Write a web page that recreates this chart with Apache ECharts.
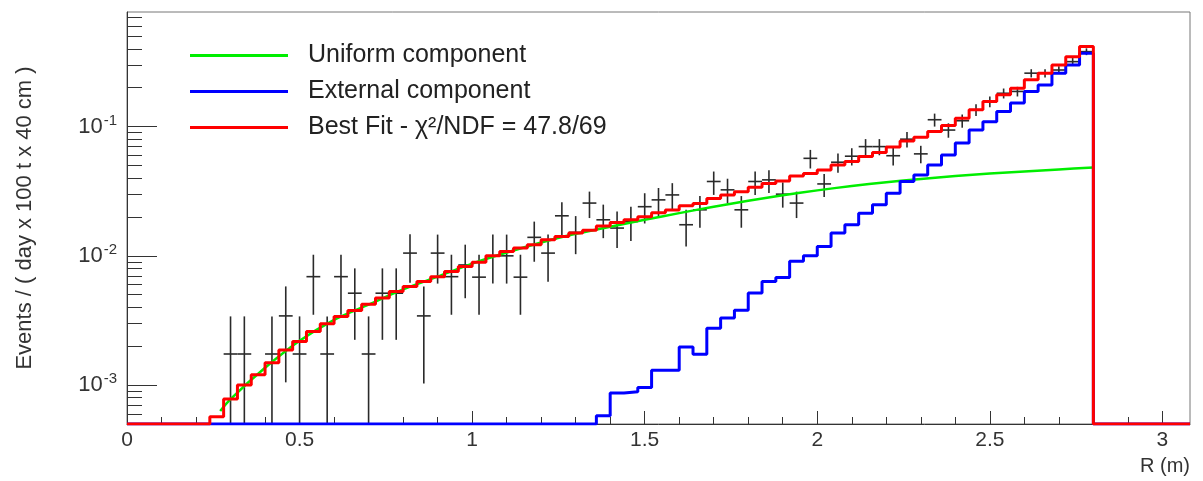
<!DOCTYPE html>
<html>
<head>
<meta charset="utf-8">
<script src="https://cdn.jsdelivr.net/npm/echarts@6.0.0/dist/echarts.min.js"></script>
<style>
  html, body { margin: 0; padding: 0; background: #fff; }
  #main { width: 1203px; height: 481px; }
</style>
</head>
<body>
<div id="main"></div>
<script>
// histogram binning (m)
var BIN_W = 0.04;
var X_MAX = 3.08;
var Y_MIN = 0.0005;
var Y_MAX = 0.77;

// best fit, per bin (70 bins from 0 to 2.8 m)
var fitTotal = [
  0, 0, 0, 0, 0, 0, 5.7e-4, 7.8e-4, 1.0e-3, 1.2e-3,
  1.49e-3, 1.87e-3, 2.17e-3, 2.6e-3, 2.98e-3, 3.4e-3, 3.78e-3, 4.23e-3, 4.71e-3, 5.3e-3,
  5.8e-3, 6.33e-3, 6.9e-3, 7.56e-3, 8.26e-3, 8.93e-3, 0.0100, 0.0108, 0.0115, 0.0122,
  0.0133, 0.0141, 0.0150, 0.0158, 0.0170, 0.0181, 0.0190, 0.0201, 0.0215, 0.0226,
  0.0244, 0.0254, 0.0278, 0.0295, 0.0313, 0.0340, 0.0363, 0.0380, 0.0414, 0.0434,
  0.0462, 0.0504, 0.0538, 0.0586, 0.0629, 0.0694, 0.0772, 0.0828, 0.0916, 0.1020,
  0.116, 0.135, 0.156, 0.176, 0.198, 0.230, 0.259, 0.300, 0.347, 0.416
];

// external component, per bin
var fitExternal = [
  0, 0, 0, 0, 0, 0, 0, 0, 0, 0,
  0, 0, 0, 0, 0, 0, 0, 0, 0, 0,
  0, 0, 0, 0, 0, 0, 0, 0, 0, 0,
  0, 0, 0, 0, 5.8e-4, 8.7e-4, 8.9e-4, 9.6e-4, 1.3e-3, 1.3e-3,
  1.97e-3, 1.73e-3, 2.75e-3, 3.3e-3, 3.8e-3, 5.16e-3, 6.33e-3, 6.8e-3, 9.1e-3, 0.0100,
  0.0118, 0.0150, 0.0174, 0.0214, 0.0248, 0.0305, 0.0376, 0.0423, 0.0505, 0.0604,
  0.0745, 0.094, 0.109, 0.131, 0.152, 0.187, 0.210, 0.259, 0.300, 0.370
];

// uniform component, smooth curve
var uniformR = [0.27, 0.3, 0.4, 0.5, 0.6, 0.7, 0.8, 0.9, 1.0, 1.1, 1.2, 1.3, 1.4, 1.5,
  1.6, 1.7, 1.8, 1.9, 2.0, 2.1, 2.2, 2.3, 2.4, 2.5, 2.6, 2.7, 2.8];
var uniformVal = [6.3e-4, 7.8e-4, 1.36e-3, 2.2e-3, 3.2e-3, 4.2e-3, 5.5e-3, 6.9e-3, 8.7e-3,
  0.0106, 0.0127, 0.0148, 0.0168, 0.0190, 0.0214, 0.0240, 0.0267, 0.0294, 0.0321, 0.0347,
  0.0371, 0.0393, 0.0414, 0.0433, 0.0450, 0.0466, 0.0482];

// data points: bin centre, value, error bar low / high
var dataR = [0.30, 0.34, 0.42, 0.46, 0.50, 0.54, 0.58, 0.62, 0.66, 0.70,
  0.74, 0.78, 0.82, 0.86, 0.90, 0.94, 0.98, 1.02, 1.06, 1.10,
  1.14, 1.18, 1.22, 1.26, 1.30, 1.34, 1.38, 1.42, 1.46, 1.50,
  1.54, 1.58, 1.62, 1.66, 1.70, 1.74, 1.78, 1.82, 1.86, 1.90,
  1.94, 1.98, 2.02, 2.06, 2.10, 2.14, 2.18, 2.22, 2.26, 2.30,
  2.34, 2.38, 2.42, 2.46, 2.50, 2.54, 2.58, 2.62, 2.66, 2.70,
  2.74, 2.78];
var dataVal = [1.74e-3, 1.74e-3, 1.74e-3, 3.43e-3, 1.74e-3, 6.9e-3, 1.74e-3, 6.9e-3, 5.14e-3, 1.74e-3,
  5.14e-3, 5.14e-3, 0.0105, 3.43e-3, 0.0105, 6.9e-3, 8.5e-3, 6.84e-3, 0.0100, 0.0100,
  6.84e-3, 0.0139, 0.0105, 0.0204, 0.0152, 0.0256, 0.0190, 0.0164, 0.0184, 0.0240,
  0.0271, 0.0296, 0.0174, 0.0227, 0.0376, 0.0324, 0.0227, 0.0376, 0.0387, 0.0300,
  0.0256, 0.0568, 0.0360, 0.0530, 0.0590, 0.0700, 0.0700, 0.0595, 0.0799, 0.0615,
  0.113, 0.094, 0.111, 0.135, 0.156, 0.181, 0.187, 0.259, 0.259, 0.274,
  0.318, 0.380];
var dataLo = [0, 0, 0, 1.05e-3, 0, 3.5e-3, 0, 3.5e-3, 2.24e-3, 0,
  2.24e-3, 2.24e-3, 6.2e-3, 1.03e-3, 6.1e-3, 3.5e-3, 4.7e-3, 3.5e-3, 6.1e-3, 6.1e-3,
  3.5e-3, 9.0e-3, 6.3e-3, 0.0145, 0.0103, 0.0196, 0.0137, 0.0115, 0.0130, 0.0178,
  0.0203, 0.0225, 0.0118, 0.0165, 0.0296, 0.0255, 0.0165, 0.0296, 0.0306, 0.0236,
  0.0196, 0.0474, 0.0285, 0.0440, 0.0500, 0.0600, 0.0600, 0.0500, 0.0690, 0.0520,
  0.100, 0.082, 0.098, 0.121, 0.141, 0.165, 0.171, 0.240, 0.240, 0.255,
  0.297, 0.357];
var dataHi = [3.4e-3, 3.4e-3, 3.4e-3, 5.8e-3, 3.4e-3, 0.0102, 3.4e-3, 0.0102, 8.0e-3, 3.4e-3,
  8.0e-3, 8.0e-3, 0.0147, 5.8e-3, 0.0146, 0.0102, 0.0122, 0.0102, 0.0146, 0.0146,
  0.0102, 0.0184, 0.0146, 0.0260, 0.0203, 0.0314, 0.0249, 0.0220, 0.0240, 0.0305,
  0.0335, 0.0365, 0.0227, 0.0290, 0.0449, 0.0395, 0.0290, 0.0449, 0.0460, 0.0370,
  0.0314, 0.0660, 0.0430, 0.0620, 0.0680, 0.0800, 0.0800, 0.0690, 0.0910, 0.0710,
  0.126, 0.106, 0.124, 0.149, 0.171, 0.197, 0.203, 0.278, 0.278, 0.293,
  0.339, 0.403];

// axis ticks
var xMajorTicks = [0, 0.5, 1, 1.5, 2, 2.5, 3];
var xMinorTicks = [0.1, 0.2, 0.3, 0.4, 0.6, 0.7, 0.8, 0.9, 1.1, 1.2, 1.3, 1.4, 1.6, 1.7, 1.8, 1.9,
  2.1, 2.2, 2.3, 2.4, 2.6, 2.7, 2.8, 2.9];
var yMajorTicks = [0.001, 0.01, 0.1];
var yMinorTicks = [6e-4, 7e-4, 8e-4, 9e-4, 2e-3, 3e-3, 4e-3, 5e-3, 6e-3, 7e-3, 8e-3, 9e-3,
  0.02, 0.03, 0.04, 0.05, 0.06, 0.07, 0.08, 0.09, 0.2, 0.3, 0.4, 0.5, 0.6, 0.7];

// step outline of a histogram, empty bins sit on the axis floor
function histLine(vals) {
  var pts = [];
  for (var i = 0; i < vals.length; i++) {
    pts.push([+(i * BIN_W).toFixed(2), Math.max(vals[i], Y_MIN)]);
  }
  var end = +(vals.length * BIN_W).toFixed(2);
  pts.push([end, Math.max(vals[vals.length - 1], Y_MIN)]);
  pts.push([end, Y_MIN]);
  pts.push([X_MAX, Y_MIN]);
  return pts;
}

var points = dataR.map(function (r, i) {
  return [r, dataVal[i], dataLo[i], dataHi[i]];
});
var uniform = uniformR.map(function (r, i) { return [r, uniformVal[i]]; });

var FONT = 'Liberation Sans';
var chart = echarts.init(document.getElementById('main'));
chart.setOption({
  animation: false,
  backgroundColor: '#fff',
  grid: {
    left: 127, right: 13, top: 12, bottom: 57,
    show: true, borderColor: '#777', borderWidth: 1
  },
  legend: {
    orient: 'vertical',
    left: 185, top: 38,
    icon: 'rect',
    itemWidth: 98, itemHeight: 3,
    itemGap: 11,
    data: ['Uniform component', 'External component', 'Best Fit - χ²/NDF = 47.8/69'],
    textStyle: { fontFamily: FONT, fontSize: 25, color: '#222', lineHeight: 25, padding: [0, 0, 0, 15] }
  },
  xAxis: [{
    type: 'value', min: 0, max: X_MAX, position: 'bottom',
    axisLine: { onZero: false, lineStyle: { color: '#333', width: 1 } },
    axisTick: { inside: true, length: 13, customValues: xMajorTicks, lineStyle: { color: '#333' } },
    axisLabel: { customValues: xMajorTicks, fontFamily: FONT, fontSize: 21, color: '#333', margin: 6 },
    splitLine: { show: false },
    name: 'R (m)', nameLocation: 'end', nameGap: 0,
    nameTextStyle: { fontFamily: FONT, fontSize: 20, color: '#333', align: 'right', verticalAlign: 'top', padding: [32, 0, 0, 0] }
  }, {
    type: 'value', min: 0, max: X_MAX, position: 'bottom', offset: 0,
    axisLine: { show: false },
    axisTick: { inside: true, length: 7, customValues: xMinorTicks, lineStyle: { color: '#333' } },
    axisLabel: { show: false },
    splitLine: { show: false }
  }],
  yAxis: [{
    type: 'log', min: Y_MIN, max: Y_MAX, position: 'left',
    axisLine: { lineStyle: { color: '#333', width: 1 } },
    axisTick: { inside: true, length: 30, customValues: yMajorTicks, lineStyle: { color: '#333' } },
    axisLabel: {
      customValues: yMajorTicks, fontFamily: FONT, fontSize: 22, color: '#333', margin: 10,
      formatter: function (v) { return '10{sup|' + Math.round(Math.log10(v)) + '}'; },
      rich: { sup: { fontFamily: FONT, fontSize: 15, color: '#333', verticalAlign: 'top', padding: [0, 0, 12, 1] } }
    },
    splitLine: { show: false },
    name: 'Events / ( day x 100 t x 40 cm )', nameLocation: 'middle', nameRotate: 90, nameGap: 91,
    nameTextStyle: { fontFamily: FONT, fontSize: 22, color: '#333' }
  }, {
    type: 'log', min: Y_MIN, max: Y_MAX, position: 'left', offset: 0,
    axisLine: { show: false },
    axisTick: { inside: true, length: 15, customValues: yMinorTicks, lineStyle: { color: '#333' } },
    axisLabel: { show: false },
    splitLine: { show: false }
  }],
  series: [{
    name: 'data',
    type: 'custom',
    clip: true,
    z: 1,
    data: points,
    encode: { x: 0, y: 1 },
    renderItem: function (params, api) {
      var x = api.value(0), y = api.value(1);
      var lo = Math.max(api.value(2), Y_MIN), hi = api.value(3);
      var top = api.coord([x, hi]), bot = api.coord([x, lo]);
      var l = api.coord([x - BIN_W / 2, y]), r = api.coord([x + BIN_W / 2, y]);
      var st = { stroke: '#2a2a2a', lineWidth: 1.6 };
      return {
        type: 'group',
        children: [
          { type: 'line', shape: { x1: top[0], y1: top[1], x2: bot[0], y2: bot[1] }, style: st },
          { type: 'line', shape: { x1: l[0], y1: l[1], x2: r[0], y2: r[1] }, style: st }
        ]
      };
    }
  }, {
    name: 'Uniform component',
    type: 'line',
    z: 2,
    data: uniform,
    smooth: 0.3,
    showSymbol: false,
    color: '#00ee00',
    itemStyle: { color: '#00ee00' },
    lineStyle: { color: '#00ee00', width: 2.5 }
  }, {
    name: 'External component',
    type: 'line',
    z: 3,
    data: histLine(fitExternal),
    step: 'end',
    showSymbol: false,
    color: '#0000ff',
    itemStyle: { color: '#0000ff' },
    lineStyle: { color: '#0000ff', width: 3 }
  }, {
    name: 'Best Fit - χ²/NDF = 47.8/69',
    type: 'line',
    z: 4,
    data: histLine(fitTotal),
    step: 'end',
    showSymbol: false,
    color: '#ff0000',
    itemStyle: { color: '#ff0000' },
    lineStyle: { color: '#ff0000', width: 3 }
  }]
});
</script>
</body>
</html>
